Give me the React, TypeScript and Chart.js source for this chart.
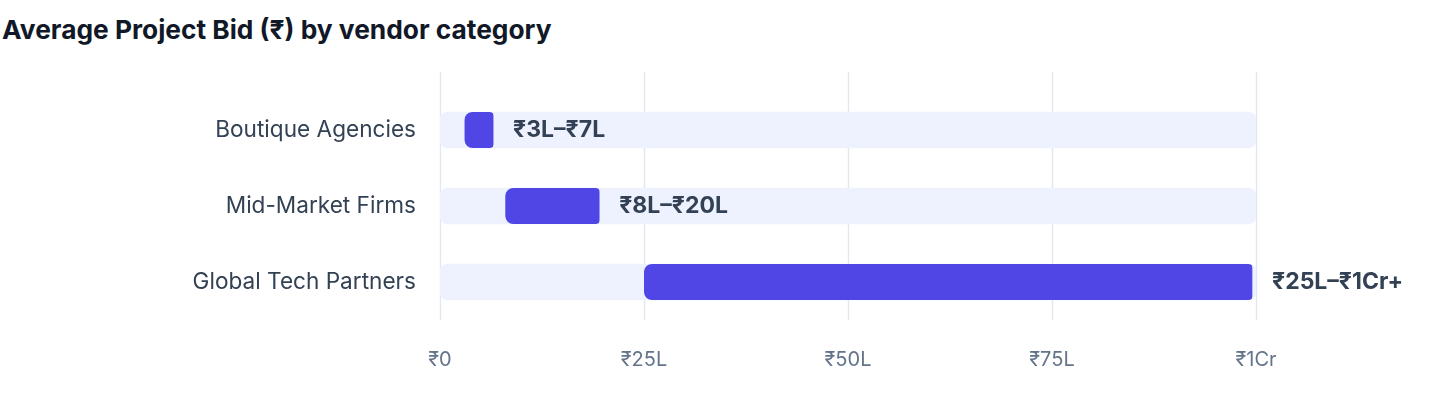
import { useEffect, useRef } from "react";
import { Chart, registerables } from "chart.js";

Chart.register(...registerables);

const categories = ["Boutique Agencies", "Mid-Market Firms", "Global Tech Partners"];
// bid range in lakh (₹L); 100L = ₹1Cr
const bidLow = [3, 8, 25];
const bidHigh = [7, 20, 100];
const rangeLabels = ["₹3L–₹7L", "₹8L–₹20L", "₹25L–₹1Cr+"];
const axisMax = 100;
const tickValues = [0, 25, 50, 75, 100];
const tickLabels = ["₹0", "₹25L", "₹50L", "₹75L", "₹1Cr"];

const FONT = "Inter, 'Noto Sans', sans-serif";

const gridPlugin = {
  id: "extendedGrid",
  beforeDatasetsDraw(chart: Chart) {
    const { ctx, chartArea } = chart;
    const x = chart.scales.x;
    ctx.save();
    ctx.strokeStyle = "#e2e8f0";
    ctx.lineWidth = 1.5;
    tickValues.forEach((v) => {
      const px = Math.round(x.getPixelForValue(v)) + 0.5;
      ctx.beginPath();
      ctx.moveTo(px, chartArea.top - 20);
      ctx.lineTo(px, chartArea.bottom);
      ctx.stroke();
    });
    ctx.restore();
  },
};

const rangeLabelPlugin = {
  id: "rangeLabels",
  afterDatasetsDraw(chart: Chart) {
    const { ctx } = chart;
    const x = chart.scales.x;
    const meta = chart.getDatasetMeta(0);
    ctx.save();
    ctx.font = `bold 23px ${FONT}`;
    ctx.fillStyle = "#334155";
    ctx.textAlign = "left";
    ctx.textBaseline = "middle";
    meta.data.forEach((el, i) => {
      ctx.fillText(rangeLabels[i], x.getPixelForValue(bidHigh[i]) + 16, el.y);
    });
    ctx.restore();
  },
};

function BidChart() {
  const canvasRef = useRef<HTMLCanvasElement>(null);
  const chartRef = useRef<Chart | null>(null);

  useEffect(() => {
    if (!canvasRef.current) return;
    chartRef.current?.destroy();
    chartRef.current = new Chart(canvasRef.current.getContext("2d")!, {
      type: "bar",
      data: {
        labels: categories,
        datasets: [
          {
            label: "Bid range",
            data: bidLow.map((lo, i) => [lo, bidHigh[i]]),
            backgroundColor: "#4f46e5",
            borderColor: "rgba(0,0,0,0)",
            borderWidth: { left: 0, top: 0, bottom: 0, right: 4 },
            borderSkipped: false,
            borderRadius: 8,
            barThickness: 36,
            grouped: false,
            order: 1,
          },
          {
            label: "Track",
            data: categories.map(() => [0, axisMax]),
            backgroundColor: "#eef2ff",
            borderSkipped: false,
            borderRadius: 8,
            barThickness: 36,
            grouped: false,
            order: 2,
          },
        ],
      },
      options: {
        indexAxis: "y",
        animation: false,
        responsive: true,
        maintainAspectRatio: false,
        layout: { padding: { top: 92, right: 184, left: 0, bottom: 0 } },
        plugins: {
          legend: { display: false },
          tooltip: { enabled: false },
        },
        scales: {
          x: {
            min: 0,
            max: axisMax,
            grid: { display: false },
            border: { display: false },
            afterFit: (scale: any) => {
              scale.height = 88;
            },
            afterBuildTicks: (scale: any) => {
              scale.ticks = tickValues.map((v) => ({ value: v }));
            },
            ticks: {
              padding: 20,
              color: "#64748b",
              font: { family: FONT, size: 20 },
              callback: (v: string | number) => tickLabels[tickValues.indexOf(Number(v))] ?? "",
            },
          },
          y: {
            grid: { display: false },
            border: { display: false },
            afterFit: (scale: any) => {
              scale.width = 440;
            },
            ticks: {
              padding: 16,
              color: "#334155",
              font: { family: FONT, size: 22.6 },
            },
          },
        },
      },
      plugins: [gridPlugin, rangeLabelPlugin],
    });
    return () => {
      chartRef.current?.destroy();
      chartRef.current = null;
    };
  }, []);

  return (
    <div style={{ position: "absolute", left: 0, top: 0, width: 1440, height: 408 }}>
      <canvas ref={canvasRef} />
    </div>
  );
}

export default function App() {
  useEffect(() => {
    document.body.style.margin = "0";
  }, []);

  return (
    <div style={{ position: "relative", width: 1440, height: 408, background: "#fff", overflow: "hidden" }}>
      <div
        style={{
          position: "absolute",
          left: 2,
          top: 14,
          fontFamily: FONT,
          fontWeight: 700,
          fontSize: 26.3,
          color: "#111827",
          whiteSpace: "nowrap",
        }}
      >
        Average Project Bid (₹) by vendor category
      </div>
      <BidChart />
    </div>
  );
}
